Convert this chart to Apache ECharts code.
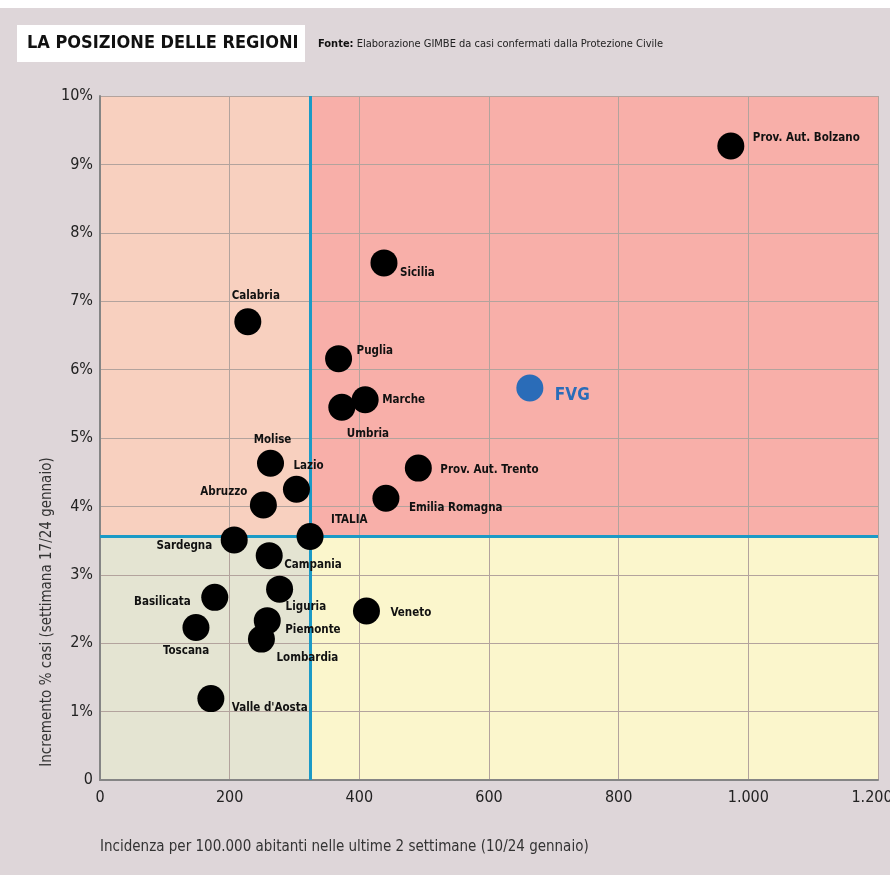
<!DOCTYPE html>
<html><head><meta charset="utf-8">
<script src="https://cdn.jsdelivr.net/npm/echarts@6/dist/echarts.min.js"></script>
<style>html,body{margin:0;padding:0;background:#ded6d9}#c{width:890px;height:875px}</style>
</head><body><div id="c"></div><script>
// ---- data ----
const regions = ['Prov. Aut. Bolzano','Sicilia','Calabria','Puglia','Umbria','Marche','Molise','Lazio','Abruzzo','Prov. Aut. Trento','Emilia Romagna','ITALIA','Sardegna','Campania','Liguria','Basilicata','Veneto','Piemonte','Toscana','Lombardia',"Valle d'Aosta"];
const incidence = [973, 438, 228, 368, 373, 409, 263, 303, 252, 491, 441, 324, 207, 261, 277, 177, 411, 258, 148, 249, 171];
const increment = [9.27, 7.56, 6.70, 6.16, 5.45, 5.56, 4.63, 4.25, 4.02, 4.56, 4.12, 3.56, 3.51, 3.28, 2.79, 2.67, 2.47, 2.33, 2.23, 2.06, 1.19];
const fvgName = 'FVG';
const fvgIncidence = 663;
const fvgIncrement = 5.73;
const italiaIncidence = 324;
const italiaIncrement = 3.56;
const xTickLabels = ['0','200','400','600','800','1.000','1.200'];
const yTickLabels = ['0','1%','2%','3%','4%','5%','6%','7%','8%','9%','10%'];

// ---- label placement (style) ----
const labelPlace = {
  'Prov. Aut. Bolzano':[22,-8,'left'], 'Sicilia':[16,10,'left'], 'Calabria':[8,-26,'center'],
  'Puglia':[18,-8,'left'], 'Umbria':[5,27,'left'], 'Marche':[17,0,'left'], 'Molise':[2,-23,'center'],
  'Lazio':[-3,-23,'left'], 'Abruzzo':[-16,-13,'right'], 'Prov. Aut. Trento':[22,2,'left'],
  'Emilia Romagna':[23,10,'left'], 'ITALIA':[21,-16,'left'], 'Sardegna':[-22,6,'right'],
  'Campania':[15,9,'left'], 'Liguria':[6,18,'left'], 'Basilicata':[-24,5,'right'],
  'Veneto':[24,2,'left'], 'Piemonte':[18,9,'left'], 'Toscana':[-33,24,'left'],
  'Lombardia':[15,19,'left'], "Valle d'Aosta":[21,9,'left'], 'FVG':[25,8,'left']
};
const FONT = "'Liberation Sans Narrow','DejaVu Sans Condensed',sans-serif";

const pts = regions.map((n,i) => {
  const p = labelPlace[n];
  return {name:n, value:[incidence[i], increment[i]],
    label:{show:true, position:'inside', align:p[2], verticalAlign:'middle', offset:[p[0],p[1]],
      formatter:n, fontFamily:FONT, fontWeight:'bold', fontSize:11.5, color:'#111', opacity:1}};
});
const fp = labelPlace[fvgName];
const fvgPts = [{name:fvgName, value:[fvgIncidence, fvgIncrement],
  label:{show:true, position:'inside', align:fp[2], verticalAlign:'middle', offset:[fp[0],fp[1]],
    formatter:fvgName, fontFamily:FONT, fontWeight:'bold', fontSize:17, color:'#2a6cb8', opacity:1}}];

const chart = echarts.init(document.getElementById('c'), null, {renderer:'canvas'});
chart.setOption({
  animation:false,
  backgroundColor:'#ded6d9',
  grid:{left:100, right:12, top:96, bottom:95, containLabel:false, outerBoundsMode:'none'},
  xAxis:{type:'value', min:0, max:1200, interval:200, z:0,
    axisLine:{show:true, onZero:false, lineStyle:{color:'#858585', width:2}},
    axisTick:{show:false},
    splitLine:{show:true, lineStyle:{color:'#b3a39d', width:1}},
    axisLabel:{margin:10, fontFamily:FONT, fontSize:16, color:'#222',
      formatter:v => { const i = Math.round(v/200); return i === xTickLabels.length-1 ? '{e|'+xTickLabels[i]+'}' : xTickLabels[i]; },
      rich:{e:{fontFamily:FONT, fontSize:16, color:'#222', padding:[0,12,0,0]}}}},
  yAxis:{type:'value', min:0, max:10, interval:1, z:0,
    axisLine:{show:true, onZero:false, lineStyle:{color:'#858585', width:2}},
    axisTick:{show:false},
    splitLine:{show:true, lineStyle:{color:'#b3a39d', width:1}},
    axisLabel:{margin:7, fontFamily:FONT, fontSize:16, color:'#222', formatter:v => yTickLabels[Math.round(v)]}},
  graphic:[
    {type:'rect', left:0, top:0, shape:{width:890, height:8}, style:{fill:'#ffffff'}},
    {type:'rect', left:17, top:25, shape:{width:288, height:37}, style:{fill:'#ffffff'}},
    {type:'text', left:27, top:34, style:{text:'LA POSIZIONE DELLE REGIONI', font:"bold 18px "+FONT, fill:'#111'}},
    {type:'text', left:318, top:39, style:{text:'{b|Fonte:} Elaborazione GIMBE da casi confermati dalla Protezione Civile',
      font:"11px "+FONT, fill:'#222', rich:{b:{fontWeight:'bold', fontFamily:FONT, fontSize:11, fill:'#111'}}}},
    {type:'text', x:47, y:612, rotation:Math.PI/2, style:{text:'Incremento % casi (settimana 17/24 gennaio)',
      font:"15px "+FONT, fill:'#333', align:'center', verticalAlign:'middle'}},
    {type:'text', left:100, top:840, style:{text:'Incidenza per 100.000 abitanti nelle ultime 2 settimane (10/24 gennaio)',
      font:"15px "+FONT, fill:'#333'}}
  ],
  series:[
    {type:'scatter', name:'quadranti', data:[], silent:true,
      markArea:{silent:true, z:-1, itemStyle:{opacity:1}, label:{show:false},
        data:[
          [{coord:[0, italiaIncrement], itemStyle:{color:'#f8d0bf'}}, {coord:[italiaIncidence, 10]}],
          [{coord:[italiaIncidence, italiaIncrement], itemStyle:{color:'#f8afa9'}}, {coord:[1200, 10]}],
          [{coord:[0, 0], itemStyle:{color:'#e4e4d2'}}, {coord:[italiaIncidence, italiaIncrement]}],
          [{coord:[italiaIncidence, 0], itemStyle:{color:'#fbf6cc'}}, {coord:[1200, italiaIncrement]}]
        ]},
      markLine:{silent:true, z:1, symbol:'none', label:{show:false},
        lineStyle:{color:'#1b9ac6', width:3, type:'solid'},
        data:[{xAxis:italiaIncidence}, {yAxis:italiaIncrement}]}
    },
    {type:'scatter', name:'Regioni', z:3, symbolSize:27, itemStyle:{color:'#000', opacity:1}, data:pts,
      emphasis:{disabled:true}, silent:true},
    {type:'scatter', name:'FVG', z:3, symbolSize:27, itemStyle:{color:'#2a6cb8', opacity:1}, data:fvgPts,
      emphasis:{disabled:true}, silent:true}
  ]
});
</script></body></html>
